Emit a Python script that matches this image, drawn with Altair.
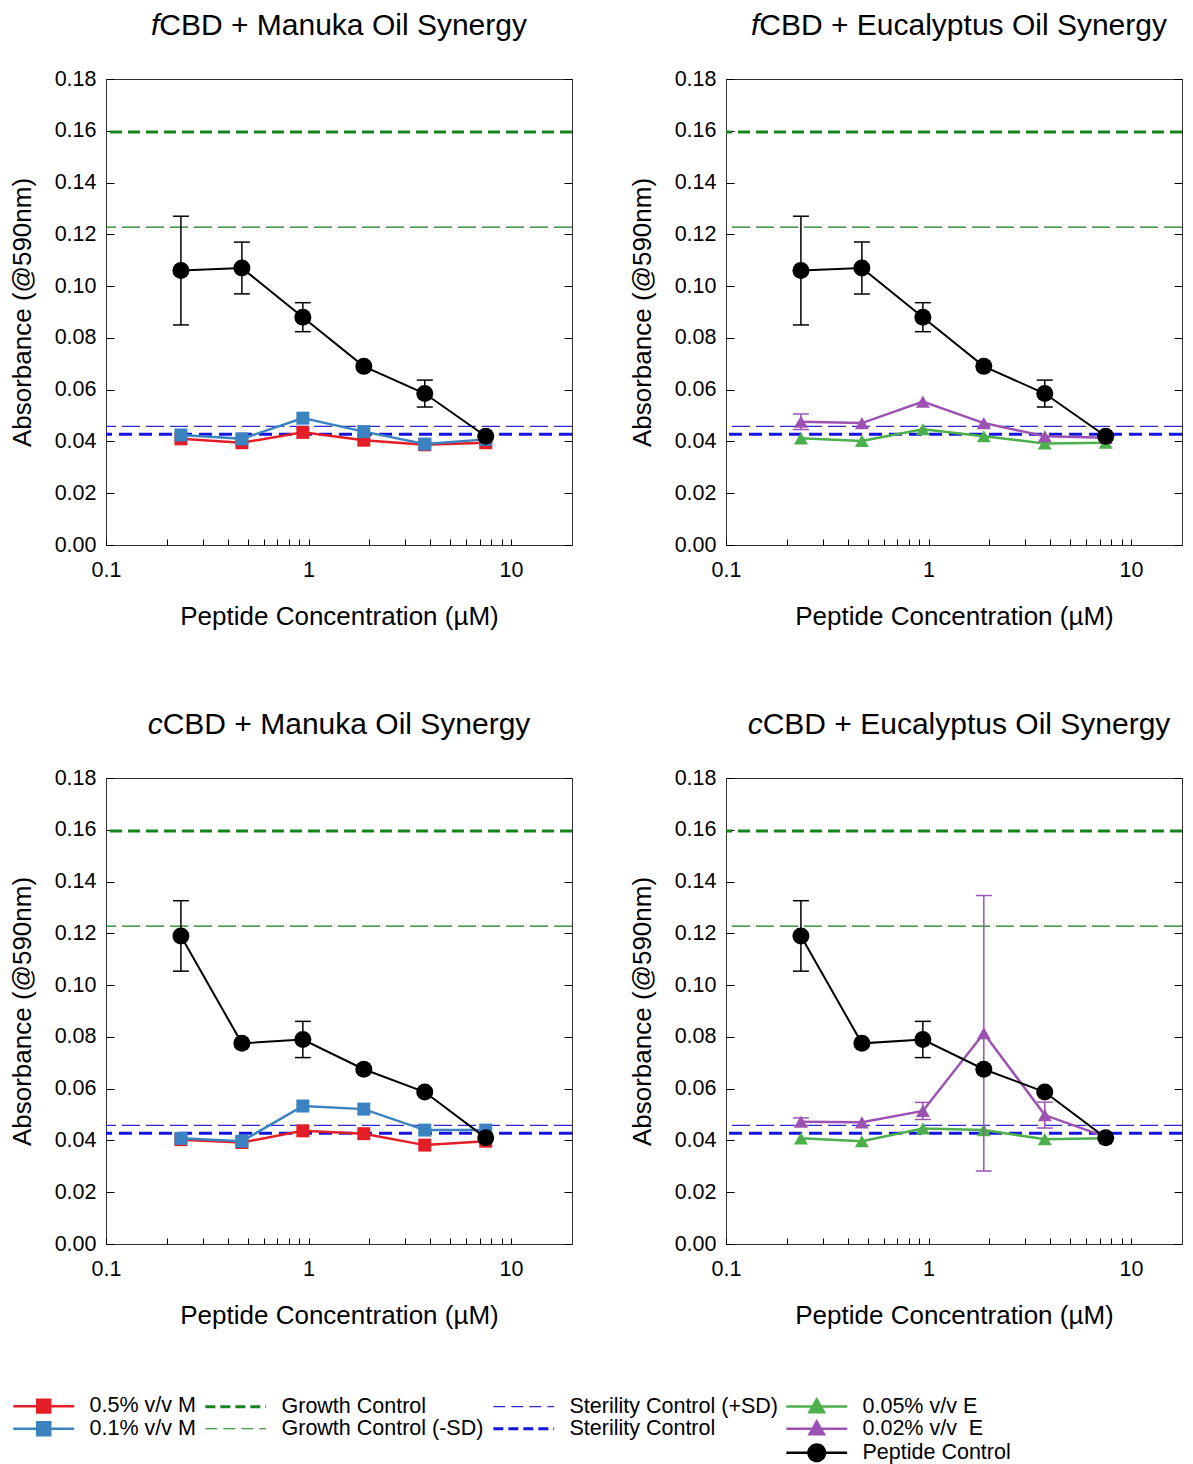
import altair as alt
import pandas as pd

# ---------------- data ----------------
conc = [0.234375, 0.46875, 0.9375, 1.875, 3.75, 7.5]

fcbd_peptide = [0.106, 0.107, 0.088, 0.069, 0.0585, 0.042]
fcbd_peptide_sd = [0.021, 0.010, 0.0056, 0.0, 0.0052, 0.0]
ccbd_peptide = [0.119, 0.0775, 0.079, 0.0675, 0.0587, 0.041]
ccbd_peptide_sd = [0.0136, 0.0, 0.007, 0.0, 0.0, 0.0]

fcbd_m05 = [0.041, 0.0395, 0.0435, 0.0405, 0.0387, 0.0395]
fcbd_m01 = [0.0425, 0.041, 0.049, 0.0438, 0.039, 0.0408]
fcbd_e005 = [0.0412, 0.0402, 0.0447, 0.042, 0.0392, 0.0395]
fcbd_e002 = [0.0476, 0.0471, 0.0554, 0.0471, 0.042, 0.0414]
fcbd_e002_sd = [0.003, 0.0, 0.0, 0.0, 0.0, 0.0]

ccbd_m05 = [0.0403, 0.0392, 0.0437, 0.0426, 0.0382, 0.0397]
ccbd_m01 = [0.0408, 0.0397, 0.0533, 0.0521, 0.044, 0.044]
ccbd_e005 = [0.0408, 0.0397, 0.0446, 0.044, 0.0405, 0.0408]
ccbd_e002 = [0.0472, 0.047, 0.0514, 0.0814, 0.0498, 0.0414]
ccbd_e002_sd = [0.0015, 0.0, 0.0033, 0.0532, 0.005, 0.0]

no_sd = [0.0, 0.0, 0.0, 0.0, 0.0, 0.0]

hline_names = ["Growth Control", "Growth Control (-SD)", "Sterility Control (+SD)", "Sterility Control"]
hline_values = [0.1595, 0.1228, 0.0458, 0.0428]

panel_titles = [
    ("f", "CBD + Manuka Oil Synergy"),
    ("f", "CBD + Eucalyptus Oil Synergy"),
    ("c", "CBD + Manuka Oil Synergy"),
    ("c", "CBD + Eucalyptus Oil Synergy"),
]

y_ticks = [0.0, 0.02, 0.04, 0.06, 0.08, 0.10, 0.12, 0.14, 0.16, 0.18]
x_ticks = [0.1, 0.2, 0.3, 0.4, 0.5, 0.6, 0.7, 0.8, 0.9, 1, 2, 3, 4, 5, 6, 7, 8, 9, 10]

# legend entries, column by column (blank entries fill empty slots)
legend_labels = ["0.5% v/v M", "0.1% v/v M", " ",
                 "Growth Control", "Growth Control (-SD)", "  ",
                 "Sterility Control (+SD)", "Sterility Control", "   ",
                 "0.05% v/v E", "0.02% v/v\u00a0 E", "Peptide Control"]

# ---------------- styles ----------------
FONT = "Liberation Sans"
RED = "#e41e26"
BLUE = "#3a82c0"
GREEN = "#4caf4c"
PURPLE = "#9c52b2"
DKGREEN = "#14851c"
THINGREEN = "#0f7d19"
STERBLUE = "#1414e0"
THINBLUE = "#2a2ad0"

hline_styles = [
    dict(color=DKGREEN, strokeWidth=3, strokeDash=[12, 6]),
    dict(color=THINGREEN, strokeWidth=1.2, strokeDash=[18, 6]),
    dict(color=THINBLUE, strokeWidth=1.2, strokeDash=[18, 6]),
    dict(color=STERBLUE, strokeWidth=3, strokeDash=[13, 7]),
]

P_SQ = "M-3.8,0H3.8M-0.81,-0.81H0.81V0.81H-0.81Z"
P_TRI = "M-3.8,0H3.8M0,-0.9L0.9,0.69H-0.9Z"
P_CIRC = "M-3.8,0H3.8M1.03,0A1.03,1.03,0,1,1,-1.03,0A1.03,1.03,0,1,1,1.03,0Z"
P_LINE = "M-3.8,0H3.8"

legend_fill = [RED, BLUE, "transparent",
               DKGREEN, THINGREEN, "transparent",
               THINBLUE, STERBLUE, "transparent",
               GREEN, PURPLE, "black"]
legend_shape = [P_SQ, P_SQ, P_LINE,
                P_LINE, P_LINE, P_LINE,
                P_LINE, P_LINE, P_LINE,
                P_TRI, P_TRI, P_CIRC]
legend_dash = [[1, 0], [1, 0], [1, 0],
               [10, 5], [12, 6], [1, 0],
               [12, 6], [10, 5], [1, 0],
               [1, 0], [1, 0], [1, 0]]
legend_width = [2.5, 2.5, 1,
                3, 1.2, 1,
                1.2, 3, 1,
                2.5, 2.5, 2.5]

LEFT_W = 466
RIGHT_W = 456
X_SCALE_L = alt.Scale(type="log", domain=[0.1, 20], nice=False)
X_SCALE_R = alt.Scale(type="log", domain=[0.1, 17.85], nice=False)
Y_SCALE = alt.Scale(domain=[0, 0.18], nice=False, zero=False)

x_axis = alt.Axis(
    values=x_ticks, format="~g",
    labelExpr="datum.value == 0.1 || datum.value == 1 || datum.value == 10 ? datum.label : ''",
    offset=-6, tickSize=6, domain=False, grid=False, labelFlush=False,
    labelPadding=14, labelFontSize=21.5, labelColor="black", tickColor="black",
    title="Peptide Concentration (µM)", titleFontSize=26, titleFontWeight="normal",
    titleColor="black", titlePadding=23,
)
y_axis = alt.Axis(
    values=y_ticks, format=".2f", offset=-8, tickSize=8, domain=False, grid=False,
    labelFlush=False, labelPadding=10, labelFontSize=21.5, labelColor="black", tickColor="black",
    title="Absorbance (@590nm)", titleFontSize=26, titleFontWeight="normal",
    titleColor="black", titlePadding=19,
)
y_axis_right = alt.Axis(
    orient="right", values=y_ticks, labels=False, offset=-8, tickSize=8, domain=False,
    grid=False, tickColor="black", title=None,
)


def series_layers(xscale, vals, sds, color, shape, size, lw):
    df = pd.DataFrame({"conc": conc, "v": vals, "sd": sds})
    base = alt.Chart(df).transform_calculate(lo="datum.v - datum.sd", hi="datum.v + datum.sd")
    x = alt.X("conc:Q", scale=xscale, axis=x_axis)
    err = base.transform_filter("datum.sd > 0")
    rule = err.mark_rule(color=color, strokeWidth=1.5).encode(
        x=x, y=alt.Y("lo:Q", scale=Y_SCALE, axis=y_axis), y2="hi:Q")
    cap_lo = err.mark_tick(orient="horizontal", size=16, thickness=1.5, color=color, opacity=1).encode(
        x=x, y=alt.Y("lo:Q", scale=Y_SCALE, axis=y_axis))
    cap_hi = err.mark_tick(orient="horizontal", size=16, thickness=1.5, color=color, opacity=1).encode(
        x=x, y=alt.Y("hi:Q", scale=Y_SCALE, axis=y_axis))
    line = base.mark_line(color=color, strokeWidth=lw).encode(
        x=x, y=alt.Y("v:Q", scale=Y_SCALE, axis=y_axis))
    pts = base.mark_point(filled=True, shape=shape, size=size, color=color, opacity=1).encode(
        x=x, y=alt.Y("v:Q", scale=Y_SCALE, axis=y_axis))
    return [rule, cap_lo, cap_hi, line, pts]


TITLE_Y = -53


def title_layers(prefix, rest, x0):
    one = pd.DataFrame({"a": [prefix], "b": [rest]})
    t1 = alt.Chart(one).mark_text(font=FONT, fontSize=30, fontStyle="italic", align="right",
                                  baseline="middle", color="black").encode(
        text="a:N", x=alt.value(x0), y=alt.value(TITLE_Y))
    t2 = alt.Chart(one).mark_text(font=FONT, fontSize=30, align="left",
                                  baseline="middle", color="black").encode(
        text="b:N", x=alt.value(x0), y=alt.value(TITLE_Y))
    return [t1, t2]


def legend_layer():
    df = pd.DataFrame({"series": legend_labels})
    leg = alt.Legend(title=None, orient="none", legendX=-73, legendY=1316, columns=4,
                     symbolSize=256, labelFont=FONT, labelFontSize=21.5, labelColor="black",
                     labelOffset=35, columnPadding=3, rowPadding=-2, padding=0,
                     symbolLimit=0, labelLimit=0)
    return alt.Chart(df).transform_filter("false").mark_point(filled=True, opacity=1).encode(
        fill=alt.Fill("series:N", scale=alt.Scale(domain=legend_labels, range=legend_fill), legend=leg),
        stroke=alt.Stroke("series:N", scale=alt.Scale(domain=legend_labels, range=legend_fill), legend=leg),
        shape=alt.Shape("series:N", scale=alt.Scale(domain=legend_labels, range=legend_shape), legend=leg),
        strokeDash=alt.StrokeDash("series:N", scale=alt.Scale(domain=legend_labels, range=legend_dash), legend=leg),
        strokeWidth=alt.StrokeWidth("series:N", scale=alt.Scale(type="ordinal", domain=legend_labels, range=legend_width), legend=leg),
    )


def panel(title, x0, width, xscale, series, with_legend=False):
    rules = []
    for val, style in zip(hline_values, hline_styles):
        df = pd.DataFrame({"y": [val]})
        rules.append(alt.Chart(df).mark_rule(**style).encode(
            y=alt.Y("y:Q", scale=Y_SCALE, axis=y_axis_right)))
    back = alt.layer(*rules)
    front_layers = []
    for s in series:
        front_layers += series_layers(xscale, *s)
    front_layers += title_layers(title[0], title[1], x0)
    if with_legend:
        front_layers.append(legend_layer())
    front = alt.layer(*front_layers)
    return alt.layer(back, front).resolve_scale(y="independent").properties(width=width, height=466)


p1 = panel(panel_titles[0], 53.3, LEFT_W, X_SCALE_L, [
    (fcbd_m05, no_sd, RED, "square", 169, 2.5),
    (fcbd_m01, no_sd, BLUE, "square", 169, 2.5),
    (fcbd_peptide, fcbd_peptide_sd, "black", "circle", 289, 2),
], with_legend=True)
p2 = panel(panel_titles[1], 33.3, RIGHT_W, X_SCALE_R, [
    (fcbd_e005, no_sd, GREEN, "triangle-up", 196, 2.5),
    (fcbd_e002, fcbd_e002_sd, PURPLE, "triangle-up", 196, 2.5),
    (fcbd_peptide, fcbd_peptide_sd, "black", "circle", 289, 2),
])
p3 = panel(panel_titles[2], 56.7, LEFT_W, X_SCALE_L, [
    (ccbd_m05, no_sd, RED, "square", 169, 2.5),
    (ccbd_m01, no_sd, BLUE, "square", 169, 2.5),
    (ccbd_peptide, ccbd_peptide_sd, "black", "circle", 289, 2),
])
p4 = panel(panel_titles[3], 36.7, RIGHT_W, X_SCALE_R, [
    (ccbd_e005, no_sd, GREEN, "triangle-up", 196, 2.5),
    (ccbd_e002, ccbd_e002_sd, PURPLE, "triangle-up", 196, 2.5),
    (ccbd_peptide, ccbd_peptide_sd, "black", "circle", 289, 2),
])

chart = alt.vconcat(
    alt.hconcat(p1, p2, spacing=54),
    alt.hconcat(p3, p4, spacing=54),
    spacing=79,
).properties(
    padding={"top": 2, "left": 0, "right": 0, "bottom": 0}
).configure_view(
    stroke="#333333", strokeWidth=1
).configure_axis(
    labelFont=FONT, titleFont=FONT
).configure_legend(
    labelFont=FONT
)

chart.save("out.html", embed_options={"renderer": "svg", "actions": False})
